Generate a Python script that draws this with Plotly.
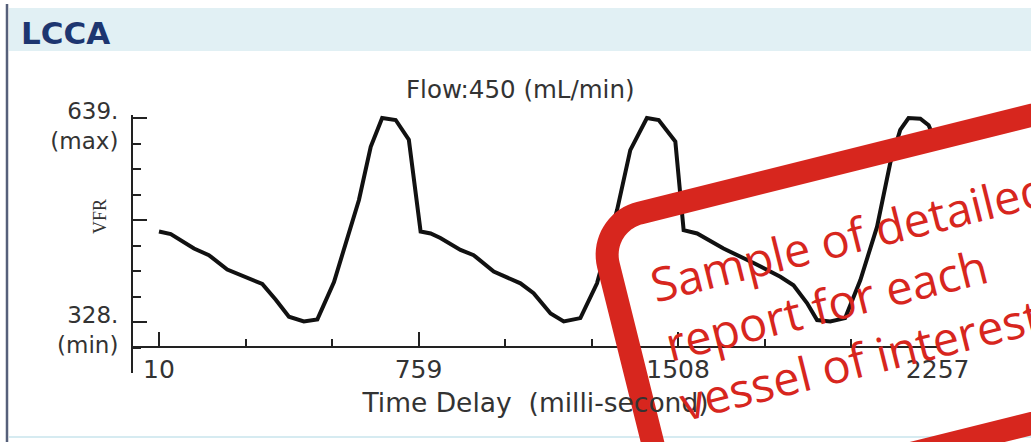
import math
import plotly.graph_objects as go

# ---------------- data ----------------
time_ms = [10, 44, 111, 154, 207, 255, 308, 347, 385, 428,
           467, 515, 553, 587, 621, 654, 693, 731, 765, 794,
           822, 880, 918, 976, 1053, 1091, 1140, 1178, 1226, 1274,
           1332, 1370, 1418, 1452, 1500, 1524, 1563, 1639, 1726, 1803,
           1841, 1880, 1909, 1947, 1990, 2034, 2082, 2120, 2149, 2173,
           2207, 2231, 2247]
vfr = [466, 462, 440, 430, 408, 397, 386, 362, 336, 329,
       332, 389, 453, 514, 595, 639, 636, 606, 466, 463,
       456, 438, 430, 405, 387, 372, 341, 329, 334, 387,
       499, 590, 639, 636, 603, 468, 463, 440, 418, 397,
       384, 357, 331, 329, 334, 392, 473, 570, 621, 639,
       638, 628, 608]

x_tick_vals = [10, 759, 1508, 2257]
x_tick_text = ["10", "759", "1508", "2257"]
y_min, y_max = 328, 639
y_tick_text = ["639.<br>(max)", "", "328.<br>(min)"]

vessel = "LCCA"
chart_title = "Flow:450 (mL/min)"
x_title = "Time Delay \u00a0(milli-second)"
y_title = "VFR"
stamp_text = "Sample of detailed<br>report for each<br>vessel of interest"

# ---------------- layout geometry ----------------
W, H = 1031, 442
L, R, T, B = 133, 93, 115, 69
PW, PH = W - L - R, H - T - B


def px(x):
    return (x - L) / PW


def py(y):
    return (H - B - y) / PH


RED = "#d7261e"
TXT = "#333333"

fig = go.Figure()
fig.add_trace(go.Scatter(
    x=time_ms, y=vfr, mode="lines",
    line=dict(color="#111111", width=4),
    hoverinfo="skip", showlegend=False,
))

y_step = (y_max - y_min) / 8
x_step = (x_tick_vals[1] - x_tick_vals[0]) / 3

fig.update_layout(
    width=W, height=H,
    margin=dict(l=L, r=R, t=T, b=B, pad=0),
    paper_bgcolor="white", plot_bgcolor="rgba(0,0,0,0)",
    showlegend=False,
    xaxis=dict(
        range=[-65, 2258], showgrid=False, zeroline=False,
        anchor="free", position=py(347),
        showline=True, linecolor="#222222", linewidth=2,
        tickmode="array", tickvals=x_tick_vals, ticktext=x_tick_text,
        ticks="inside", ticklen=14, tickwidth=2, tickcolor="#222222",
        tickfont=dict(family="DejaVu Sans", size=25, color=TXT),
        minor=dict(tickmode="linear", tick0=x_tick_vals[0], dtick=x_step,
                   ticks="inside", ticklen=7, tickwidth=2, tickcolor="#222222"),
        title=dict(text=x_title, font=dict(family="DejaVu Sans", size=26.5, color=TXT),
                   standoff=9),
    ),
    yaxis=dict(
        range=[250.3, 643.6], showgrid=False, zeroline=False,
        showline=True, linecolor="#222222", linewidth=2,
        tickmode="array", tickvals=[y_max, (y_max + y_min) / 2, y_min],
        ticktext=y_tick_text,
        ticks="inside", ticklen=14, tickwidth=2, tickcolor="#222222",
        tickfont=dict(family="DejaVu Sans", size=23, color=TXT),
        ticklabelstandoff=8, ticklabelshift=8,
        minor=dict(tickmode="linear", tick0=y_min, dtick=y_step,
                   ticks="inside", ticklen=8, tickwidth=2, tickcolor="#222222"),
    ),
)

shapes = []
# header band
shapes.append(dict(type="rect", xref="paper", yref="paper",
                   x0=px(9), x1=px(W + 5), y0=py(51), y1=py(8),
                   fillcolor="#e1f0f4", line=dict(width=0), layer="below"))
# left frame line
shapes.append(dict(type="line", xref="paper", yref="paper",
                   x0=px(7), x1=px(7), y0=py(4), y1=py(H + 5),
                   line=dict(color="#56607a", width=2.5), layer="below"))
# bottom faint line
shapes.append(dict(type="line", xref="paper", yref="paper",
                   x0=px(9), x1=px(W + 5), y0=py(437), y1=py(437),
                   line=dict(color="#d6ebf1", width=2), layer="below"))

# red "stamp" rounded rectangle, rotated
ang = math.radians(14)
c, s = math.cos(ang), math.sin(ang)
cx, cy = 598.0, 223.4
sw, sh, rad = 720.0, 299.0, 43.0


def local(a, b):
    X = cx + a * c + b * s
    Y = cy - a * s + b * c
    return px(X), py(Y)


pts = []
corners = [(sw - rad, rad, -90), (sw - rad, sh - rad, 0),
           (rad, sh - rad, 90), (rad, rad, 180)]
for (ca, cb, start) in corners:
    for k in range(0, 19):
        t = math.radians(start + 90 * k / 18)
        pts.append(local(ca + rad * math.cos(t), cb + rad * math.sin(t)))
path = "M " + " L ".join(f"{x:.5f},{y:.5f}" for x, y in pts) + " Z"
shapes.append(dict(type="path", xref="paper", yref="paper", path=path,
                   line=dict(color=RED, width=23), fillcolor="rgba(0,0,0,0)",
                   layer="above"))
fig.update_layout(shapes=shapes)

annotations = [
    dict(text=vessel, xref="paper", yref="paper", x=px(19), y=py(33),
         xanchor="left", yanchor="middle", showarrow=False,
         font=dict(family="DejaVu Sans", size=31, color="#1d3670", weight="bold")),
    dict(text=chart_title, xref="paper", yref="paper", x=px(520), y=py(89),
         xanchor="center", yanchor="middle", showarrow=False,
         font=dict(family="DejaVu Sans", size=24.5, color=TXT)),
    dict(text=y_title, xref="paper", yref="paper", x=px(100), y=py(217),
         xanchor="center", yanchor="middle", showarrow=False, textangle=-90,
         font=dict(family="Liberation Serif", size=18, color=TXT)),
    dict(text=stamp_text, xref="paper", yref="paper", x=px(864), y=py(295),
         xanchor="center", yanchor="middle", showarrow=False, textangle=-14,
         align="left",
         font=dict(family="Open Sans", size=47, color=RED, weight=400)),
]
fig.update_layout(annotations=annotations)

fig.write_html("out.html",
               config={"displayModeBar": False, "staticPlot": True},
               post_script="document.body.style.margin='0px';"
                           "document.body.style.overflow='hidden';")
